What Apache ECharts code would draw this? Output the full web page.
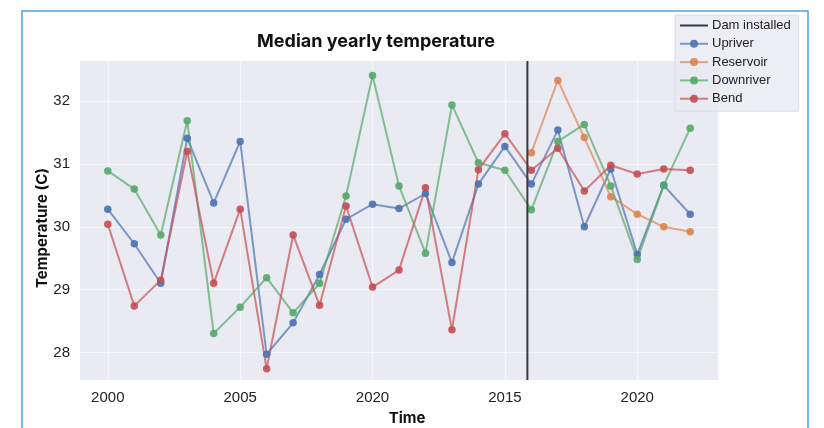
<!DOCTYPE html>
<html>
<head>
<meta charset="utf-8">
<script src="https://cdn.jsdelivr.net/npm/echarts@6/dist/echarts.min.js"></script>
<style>
html,body{margin:0;padding:0;background:#ffffff;}
#chart{width:824px;height:428px;}
</style>
</head>
<body>
<div id="chart"></div>
<script>
// ---- data ----
const years = [2000,2001,2002,2003,2004,2005,2006,2007,2008,2009,2010,2011,2012,2013,2014,2015,2016,2017,2018,2019,2020,2021,2022];
const upriver   = [30.28,29.73,29.10,31.41,30.38,31.36,27.97,28.47,29.24,30.12,30.36,30.29,30.53,29.43,30.68,31.28,30.68,31.54,30.00,30.92,29.56,30.66,30.20];
const downriver = [30.89,30.60,29.87,31.69,28.30,28.72,29.19,28.63,29.10,30.49,32.41,30.65,29.58,31.94,31.02,30.90,30.27,31.36,31.63,30.65,29.48,30.66,31.57];
const bend      = [30.04,28.74,29.15,31.20,29.10,30.28,27.74,29.87,28.75,30.33,29.04,29.31,30.62,28.36,30.91,31.48,30.90,31.25,30.57,30.98,30.84,30.92,30.90];
const reservoirYears = [2016,2017,2018,2019,2020,2021,2022];
const reservoir = [31.18,32.33,31.42,30.48,30.20,30.00,29.92];
const damYear = 2015.85;
const xTickValues = [2000,2005,2010,2015,2020];
const xTickLabels = ['2000','2005','2020','2015','2020'];
const yTickValues = [28,29,30,31,32];
const xMin = 1998.95, xMax = 2023.05;
const yMin = 27.56, yMax = 32.64;

const colors = {Upriver:'#4c72b0', Reservoir:'#dd8452', Downriver:'#55a868', Bend:'#c44e52'};
const pair = (xs, vs) => xs.map((x,i)=>[x, vs[i]]);

function lineSeries(name, data){
  return {
    name, type:'line', data,
    symbol:'circle', symbolSize:7.5,
    lineStyle:{width:2, color:colors[name], opacity:0.7},
    itemStyle:{color:colors[name], opacity:0.9},
    emphasis:{disabled:true},
    animation:false, z:3
  };
}

const chart = echarts.init(document.getElementById('chart'), null, {renderer:'canvas'});
const tickFont = {fontFamily:'Liberation Sans', fontSize:15, color:'#222'};
chart.setOption({
  backgroundColor:'#ffffff',
  animation:false,
  grid:{left:80, right:106, top:61, bottom:48, show:true, backgroundColor:'#eaeaf2', borderWidth:0},
  xAxis:{
    type:'value', min:xMin, max:xMax,
    axisLine:{show:false}, axisTick:{show:false, customValues:xTickValues},
    axisLabel:Object.assign({customValues:xTickValues, margin:10,
      formatter:(v)=>{const i=xTickValues.indexOf(Math.round(v)); return i>=0?xTickLabels[i]:'';}}, tickFont),
    splitLine:{show:true, customValues:xTickValues, lineStyle:{color:'#f6f6fa', width:1.2}}
  },
  yAxis:{
    type:'value', min:yMin, max:yMax,
    axisLine:{show:false}, axisTick:{show:false, customValues:yTickValues},
    axisLabel:Object.assign({customValues:yTickValues, margin:10, formatter:(v)=>String(Math.round(v))}, tickFont),
    splitLine:{show:true, customValues:yTickValues, lineStyle:{color:'#f6f6fa', width:1.2}}
  },
  legend:{
    orient:'vertical', left:675, top:15,
    data:[{name:'Dam installed', itemStyle:{opacity:0}},'Upriver','Reservoir','Downriver','Bend'],
    itemWidth:28, itemHeight:10, itemGap:5.3,
    backgroundColor:'rgba(234,234,242,0.85)', borderColor:'#dcdce4', borderWidth:1,
    padding:[4,8,6,4],
    textStyle:{fontFamily:'Liberation Sans', fontSize:13, color:'#222', padding:[0,0,0,-1]}
  },
  series:[
    {name:'Dam installed', type:'line', data:[[damYear,yMin],[damYear,yMax]], symbol:'none',
     lineStyle:{color:'#3a3a3a', width:2}, itemStyle:{color:'#3a3a3a'}, z:4, emphasis:{disabled:true}},
    lineSeries('Upriver', pair(years, upriver)),
    lineSeries('Reservoir', pair(reservoirYears, reservoir)),
    lineSeries('Downriver', pair(years, downriver)),
    lineSeries('Bend', pair(years, bend))
  ],
  graphic:[
    {type:'rect', shape:{x:22, y:11, width:786, height:440}, style:{fill:'none', stroke:'#4fa3e0', lineWidth:1.5}, silent:true},
    {type:'text', x:376, y:42, style:{text:'Median yearly temperature', font:'bold 18px Inter', fill:'#111', textAlign:'center', textVerticalAlign:'middle'}},
    {type:'text', x:407, y:418, style:{text:'Time', font:'bold 15px Inter', fill:'#111', textAlign:'center', textVerticalAlign:'middle'}},
    {type:'text', x:42, y:228, rotation:Math.PI/2, style:{text:'Temperature (C)', font:'bold 15px Inter', fill:'#111', textAlign:'center', textVerticalAlign:'middle'}}
  ]
});
</script>
</body>
</html>
